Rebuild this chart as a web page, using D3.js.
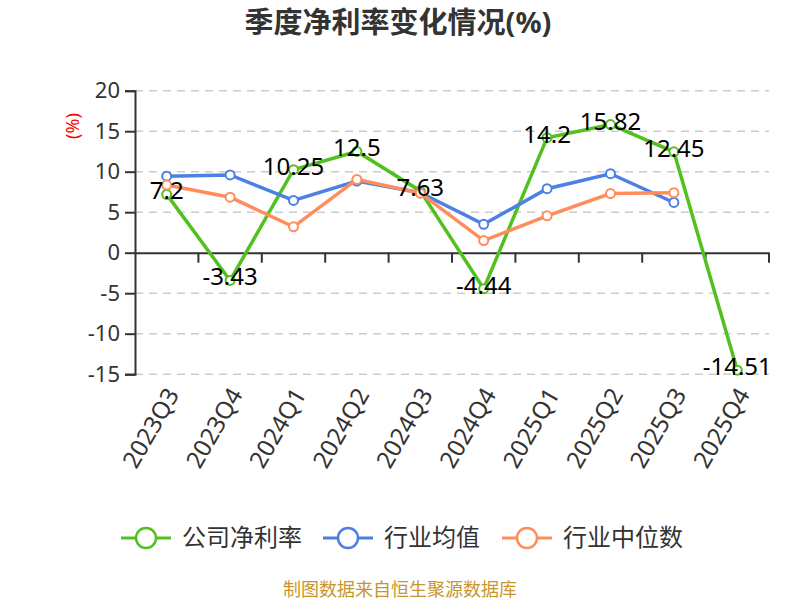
<!DOCTYPE html>
<html>
<head>
<meta charset="utf-8">
<script src="https://cdn.jsdelivr.net/npm/d3@7"></script>
<style>
  body { margin: 0; background: #fff; }
  svg { font-family: "Noto Sans", "Noto Sans CJK SC", sans-serif; }
</style>
</head>
<body>
<script>
// data
var quarters = ["2023Q3", "2023Q4", "2024Q1", "2024Q2", "2024Q3", "2024Q4", "2025Q1", "2025Q2", "2025Q3", "2025Q4"];
var companyRate = [7.2, -3.43, 10.25, 12.5, 7.63, -4.44, 14.2, 15.82, 12.45, -14.51];
var industryAvg = [9.45, 9.6, 6.45, 8.85, 7.4, 3.5, 7.9, 9.75, 6.2, null];
var industryMedian = [8.35, 6.85, 3.2, 9.05, 7.35, 1.5, 4.55, 7.3, 7.4, null];
var yTicks = [20, 15, 10, 5, 0, -5, -10, -15];

var series = [
  { name: "公司净利率", values: companyRate, color: "#52c11f" },
  { name: "行业均值", values: industryAvg, color: "#4d80e3" },
  { name: "行业中位数", values: industryMedian, color: "#ff8d5c" }
];

var W = 800, H = 600;
var margin = { top: 90.7, right: 31, bottom: 225.8, left: 135 };
var width = W - margin.left - margin.right,
  height = H - margin.top - margin.bottom;

var svg = d3.select("body").append("svg")
  .attr("width", W)
  .attr("height", H);

// title
svg.append("text")
  .attr("x", 398)
  .attr("y", 33)
  .attr("text-anchor", "middle")
  .style("font-size", "29px")
  .style("font-weight", "bold")
  .style("fill", "#333")
  .text("季度净利率变化情况(%)");

var g = svg.append("g")
  .attr("transform", "translate(" + margin.left + "," + margin.top + ")");

var x = d3.scaleBand().domain(quarters).range([0, width]);
var y = d3.scaleLinear().domain([-15, 20]).range([height, 0]);

// grid
g.selectAll(".grid")
  .data(yTicks.filter(function(t) { return t !== 0; }))
  .enter().append("line")
  .attr("x1", 0)
  .attr("x2", width)
  .attr("y1", function(d) { return y(d); })
  .attr("y2", function(d) { return y(d); })
  .attr("stroke", "#ccc")
  .attr("stroke-width", 1.5)
  .attr("stroke-dasharray", "8,6");

// y axis
var yAxis = g.append("g")
  .call(d3.axisLeft(y).tickValues(yTicks).tickSize(10).tickPadding(5).tickFormat(function(d) { return String(d); }));
yAxis.select(".domain").attr("stroke", "#333").attr("stroke-width", 2);
yAxis.selectAll(".tick line").attr("stroke", "#333").attr("stroke-width", 2);
yAxis.selectAll(".tick text")
  .style("font-size", "22px")
  .style("font-family", "Noto Sans")
  .attr("fill", "#333");

// x axis on zero
var xAxis = g.append("g")
  .attr("transform", "translate(0," + y(0) + ")")
  .call(d3.axisBottom(x).tickSize(0).tickFormat(""));
xAxis.select(".domain").attr("stroke", "#333").attr("stroke-width", 2);
g.selectAll(".xtick")
  .data(quarters)
  .enter().append("line")
  .attr("x1", function(d) { return x(d) + x.bandwidth(); })
  .attr("x2", function(d) { return x(d) + x.bandwidth(); })
  .attr("y1", y(0))
  .attr("y2", y(0) + 10)
  .attr("stroke", "#333")
  .attr("stroke-width", 2);

// x labels at the bottom
g.selectAll(".xlabel")
  .data(quarters)
  .enter().append("text")
  .attr("transform", function(d) {
    return "translate(" + (x(d) + x.bandwidth() / 2 + 6) + "," + (height + 16) + ") rotate(-60)";
  })
  .attr("text-anchor", "end")
  .attr("dy", "0.35em")
  .style("font-size", "24px")
  .style("fill", "#333")
  .text(function(d) { return d; });

// y name
svg.append("text")
  .attr("transform", "translate(73,126) rotate(-90)")
  .attr("text-anchor", "middle")
  .attr("dy", "0.35em")
  .style("font-size", "18px")
  .style("fill", "#f00")
  .text("(%)");

// lines
var line = d3.line()
  .defined(function(d) { return d.v !== null; })
  .x(function(d) { return x(d.q) + x.bandwidth() / 2; })
  .y(function(d) { return y(d.v); });

series.forEach(function(s) {
  var pts = quarters.map(function(q, i) { return { q: q, v: s.values[i] }; });
  g.append("path")
    .datum(pts)
    .attr("fill", "none")
    .attr("stroke", s.color)
    .attr("stroke-width", 3.5)
    .attr("d", line);
  g.selectAll(null)
    .data(pts.filter(function(d) { return d.v !== null; }))
    .enter().append("circle")
    .attr("cx", function(d) { return x(d.q) + x.bandwidth() / 2; })
    .attr("cy", function(d) { return y(d.v); })
    .attr("r", 4.5)
    .attr("fill", "#fff")
    .attr("stroke", s.color)
    .attr("stroke-width", 2);
});

// data labels
var labelPts = quarters.map(function(q, i) { return { q: q, v: companyRate[i] }; });
g.selectAll(".dlabel")
  .data(labelPts)
  .enter().append("text")
  .attr("x", function(d) { return x(d.q) + x.bandwidth() / 2; })
  .attr("y", function(d) { return y(d.v) + 5; })
  .attr("text-anchor", "middle")
  .style("font-size", "24px")
  .style("fill", "#000")
  .text(function(d) { return d.v; });

// legend
var legendX = [121, 323, 502];
var leg = svg.selectAll(".legend")
  .data(series)
  .enter().append("g")
  .attr("transform", function(d, i) { return "translate(" + legendX[i] + ",538)"; });
leg.append("line")
  .attr("x1", 0).attr("x2", 50)
  .attr("stroke", function(d) { return d.color; })
  .attr("stroke-width", 3);
leg.append("circle")
  .attr("cx", 25).attr("r", 10)
  .attr("fill", "#fff")
  .attr("stroke", function(d) { return d.color; })
  .attr("stroke-width", 2.5);
leg.append("text")
  .attr("x", 61)
  .attr("dy", "0.35em")
  .style("font-size", "24px")
  .style("fill", "#333")
  .text(function(d) { return d.name; });

// footer
svg.append("text")
  .attr("x", 400)
  .attr("y", 590)
  .attr("text-anchor", "middle")
  .attr("dy", "0.35em")
  .style("font-size", "18px")
  .style("fill", "#c8952d")
  .text("制图数据来自恒生聚源数据库");
</script>
</body>
</html>
